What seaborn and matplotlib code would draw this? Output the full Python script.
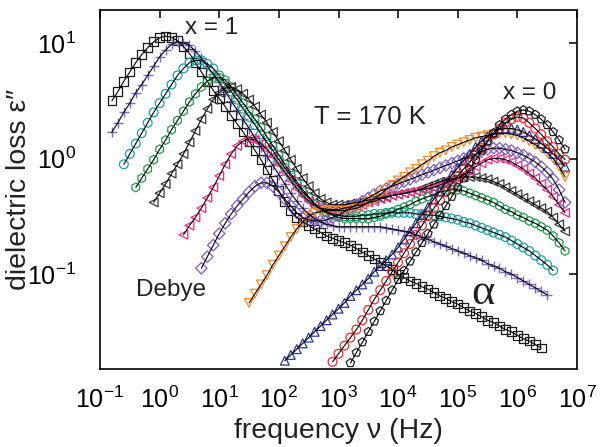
import numpy as np
import pandas as pd
import matplotlib
matplotlib.use("Agg")
import matplotlib.pyplot as plt
import seaborn as sns
from matplotlib.ticker import LogLocator, LogFormatterSciNotation, NullLocator

sns.set_theme(style="white")
plt.rcParams["font.family"] = ["Liberation Sans", "DejaVu Sans"]
plt.rcParams["mathtext.fontset"] = "custom"
plt.rcParams["mathtext.rm"] = "Liberation Sans"
plt.rcParams["mathtext.it"] = "Liberation Sans:italic"
plt.rcParams["mathtext.bf"] = "Liberation Sans:bold"
plt.rcParams["mathtext.default"] = "regular"

# measurement grid: log10(frequency / Hz), ten points per decade
LOG_F = [-0.8, -0.7, -0.6, -0.5, -0.4, -0.3, -0.2, -0.1, 0.0, 0.1,
         0.2, 0.3, 0.4, 0.5, 0.6, 0.7, 0.8, 0.9, 1.0, 1.1,
         1.2, 1.3, 1.4, 1.5, 1.6, 1.7, 1.8, 1.9, 2.0, 2.1,
         2.2, 2.3, 2.4, 2.5, 2.6, 2.7, 2.8, 2.9, 3.0, 3.1,
         3.2, 3.3, 3.4, 3.5, 3.6, 3.7, 3.8, 3.9, 4.0, 4.1,
         4.2, 4.3, 4.4, 4.5, 4.6, 4.7, 4.8, 4.9, 5.0, 5.1,
         5.2, 5.3, 5.4, 5.5, 5.6, 5.7, 5.8, 5.9, 6.0, 6.1,
         6.2, 6.3, 6.4, 6.5, 6.6, 6.7, 6.8]

# log10(eps'') for each concentration, starting at the given log frequency
LOSS_X100 = [0.50, 0.58, 0.67, 0.75, 0.83, 0.90, 0.96, 1.01, 1.045, 1.06, 1.05,
             1.02, 0.97, 0.91, 0.83, 0.75, 0.67, 0.59, 0.52, 0.45, 0.37,
             0.30, 0.23, 0.15, 0.07, -0.01, -0.10, -0.19, -0.28, -0.37, -0.45,
             -0.51, -0.55, -0.58, -0.61, -0.64, -0.67, -0.69, -0.71, -0.73, -0.75,
             -0.78, -0.81, -0.84, -0.87, -0.90, -0.93, -0.96, -1.00, -1.03, -1.06,
             -1.08, -1.11, -1.13, -1.16, -1.19, -1.21, -1.24, -1.26, -1.29, -1.32,
             -1.34, -1.37, -1.40, -1.42, -1.45, -1.48, -1.50, -1.53, -1.56, -1.58,
             -1.61, -1.64]
LOSS_X090 = [0.23, 0.31, 0.40, 0.48, 0.57, 0.64, 0.72, 0.80, 0.88, 0.94, 0.99,
             1.01, 1.00, 0.98, 0.93, 0.87, 0.80, 0.73, 0.66, 0.58, 0.50,
             0.42, 0.34, 0.26, 0.18, 0.10, 0.02, -0.06, -0.14, -0.22, -0.30,
             -0.37, -0.43, -0.48, -0.52, -0.55, -0.57, -0.58, -0.59, -0.59, -0.59,
             -0.59, -0.59, -0.59, -0.59, -0.59, -0.60, -0.61, -0.62, -0.63, -0.64,
             -0.66, -0.68, -0.70, -0.72, -0.74, -0.76, -0.78, -0.80, -0.82, -0.84,
             -0.86, -0.88, -0.91, -0.93, -0.95, -0.98, -1.00, -1.03, -1.06, -1.09,
             -1.12, -1.15, -1.18]
LOSS_X080 = [-0.05, 0.04, 0.13, 0.22, 0.31, 0.40, 0.48, 0.56, 0.64, 0.72,
             0.78, 0.83, 0.85, 0.85, 0.82, 0.78, 0.72, 0.65, 0.58, 0.51,
             0.43, 0.36, 0.29, 0.21, 0.14, 0.07, -0.01, -0.08, -0.15, -0.22,
             -0.29, -0.34, -0.39, -0.43, -0.46, -0.48, -0.49, -0.50, -0.50, -0.50,
             -0.49, -0.49, -0.48, -0.48, -0.47, -0.47, -0.47, -0.47, -0.47, -0.48,
             -0.48, -0.49, -0.49, -0.50, -0.51, -0.52, -0.53, -0.55, -0.56, -0.58,
             -0.60, -0.62, -0.64, -0.66, -0.68, -0.71, -0.74, -0.77, -0.80, -0.84,
             -0.88, -0.92, -0.97]
LOSS_X070 = [-0.25, -0.17, -0.09, -0.01, 0.08, 0.16, 0.25, 0.33, 0.41, 0.49,
             0.56, 0.62, 0.67, 0.70, 0.70, 0.68, 0.62, 0.55, 0.48, 0.41,
             0.34, 0.27, 0.19, 0.11, 0.03, -0.05, -0.13, -0.20, -0.27, -0.33,
             -0.40, -0.44, -0.47, -0.49, -0.51, -0.52, -0.52, -0.52, -0.52, -0.52,
             -0.51, -0.50, -0.48, -0.46, -0.44, -0.42, -0.40, -0.37, -0.35, -0.33,
             -0.31, -0.29, -0.28, -0.27, -0.27, -0.28, -0.30, -0.32, -0.34, -0.36,
             -0.38, -0.41, -0.44, -0.46, -0.49, -0.51, -0.54, -0.56, -0.59, -0.62,
             -0.67, -0.73, -0.80]
LOSS_X060 = [-0.38, -0.30, -0.22, -0.13, -0.05, 0.04, 0.14, 0.24, 0.34, 0.43,
             0.51, 0.57, 0.61, 0.62, 0.60, 0.56, 0.51, 0.45, 0.38, 0.31,
             0.23, 0.15, 0.07, -0.01, -0.09, -0.17, -0.24, -0.30, -0.35, -0.38,
             -0.40, -0.40, -0.40, -0.39, -0.38, -0.37, -0.36, -0.35, -0.34, -0.33,
             -0.32, -0.31, -0.30, -0.29, -0.28, -0.26, -0.24, -0.22, -0.20, -0.19,
             -0.18, -0.17, -0.16, -0.16, -0.16, -0.17, -0.18, -0.20, -0.22, -0.25,
             -0.28, -0.31, -0.34, -0.37, -0.40, -0.43, -0.46, -0.51, -0.57, -0.63]
LOSS_X050 = [-0.66, -0.58, -0.51, -0.43, -0.34, -0.25, -0.15, -0.05, 0.04, 0.11,
             0.15, 0.17, 0.16, 0.13, 0.08, 0.02, -0.05, -0.12, -0.19, -0.26,
             -0.32, -0.37, -0.41, -0.43, -0.44, -0.44, -0.44, -0.43, -0.42, -0.41,
             -0.40, -0.38, -0.37, -0.35, -0.34, -0.32, -0.31, -0.30, -0.29, -0.28,
             -0.27, -0.26, -0.25, -0.23, -0.21, -0.19, -0.17, -0.14, -0.11, -0.07,
             -0.04, -0.01, 0.00, 0.00, -0.01, -0.03, -0.06, -0.09, -0.13, -0.17,
             -0.22, -0.27, -0.33, -0.40, -0.47]
LOSS_X040 = [-0.95, -0.85, -0.75, -0.65, -0.56, -0.48, -0.41, -0.35, -0.29, -0.24,
             -0.21, -0.21, -0.24, -0.29, -0.35, -0.41, -0.47, -0.51, -0.53, -0.54,
             -0.54, -0.53, -0.51, -0.49, -0.46, -0.43, -0.40, -0.37, -0.34, -0.31,
             -0.28, -0.26, -0.24, -0.22, -0.20, -0.18, -0.16, -0.14, -0.12, -0.10,
             -0.08, -0.06, -0.04, -0.02, 0.00, 0.02, 0.04, 0.06, 0.08, 0.09,
             0.09, 0.08, 0.07, 0.05, 0.03, 0.00, -0.03, -0.07, -0.12, -0.18,
             -0.27, -0.38]
LOSS_X030 = [-1.25, -1.17, -1.09, -1.01, -0.92, -0.84, -0.76, -0.68, -0.61, -0.55,
             -0.50, -0.47, -0.46, -0.45, -0.45, -0.45, -0.45, -0.44, -0.43, -0.41,
             -0.38, -0.35, -0.31, -0.27, -0.23, -0.19, -0.16, -0.12, -0.09, -0.05,
             -0.02, 0.02, 0.05, 0.07, 0.10, 0.12, 0.14, 0.16, 0.18, 0.19,
             0.20, 0.21, 0.22, 0.22, 0.21, 0.20, 0.18, 0.15, 0.12, 0.09,
             0.05, 0.00, -0.07, -0.16]
LOSS_X020 = [-1.75, -1.70, -1.65, -1.60, -1.55, -1.50, -1.45, -1.40, -1.35, -1.30,
             -1.25, -1.19, -1.14, -1.09, -1.04, -0.98, -0.93, -0.88, -0.83, -0.77,
             -0.70, -0.63, -0.56, -0.49, -0.42, -0.35, -0.28, -0.21, -0.14, -0.08,
             -0.02, 0.04, 0.10, 0.15, 0.19, 0.22, 0.25, 0.26, 0.26, 0.25,
             0.23, 0.20, 0.17, 0.13, 0.09, 0.04, -0.01, -0.07]
LOSS_X010 = [-1.76, -1.69, -1.62, -1.55, -1.48, -1.40, -1.31, -1.22, -1.14, -1.06,
             -0.98, -0.90, -0.82, -0.74, -0.66, -0.58, -0.50, -0.43, -0.36, -0.29,
             -0.22, -0.15, -0.09, -0.03, 0.03, 0.09, 0.15, 0.21, 0.26, 0.31,
             0.34, 0.36, 0.35, 0.31, 0.26, 0.21, 0.15, 0.10, 0.04, -0.01]
LOSS_X000 = [-1.77, -1.68, -1.59, -1.50, -1.41, -1.32, -1.23, -1.14, -1.05, -0.97,
             -0.89, -0.81, -0.73, -0.65, -0.57, -0.49, -0.41, -0.33, -0.25, -0.17,
             -0.09, -0.01, 0.07, 0.15, 0.22, 0.29, 0.34, 0.38, 0.41, 0.42,
             0.41, 0.38, 0.34, 0.29, 0.23, 0.16, 0.08]

# (first log frequency, log loss values, marker, colour)
SERIES = [
    (-0.8, LOSS_X100, "s", "#1a1a1a"),
    (-0.8, LOSS_X090, "+", "#7c68bd"),
    (-0.6, LOSS_X080, "o", "#1f9ea3"),
    (-0.4, LOSS_X070, "h", "#22994f"),
    (-0.1, LOSS_X060, "<", "#3a3a3a"),
    (0.4, LOSS_X050, "<", "#ec2a86"),
    (0.7, LOSS_X040, "D", "#7b5cbf"),
    (1.5, LOSS_X030, "v", "#f5892a"),
    (2.1, LOSS_X020, "^", "#2b3595"),
    (2.9, LOSS_X010, "o", "#ee2a30"),
    (3.2, LOSS_X000, "p", "#222222"),
]

fig = plt.figure(figsize=(6.06, 4.47), dpi=100)
ax = fig.add_axes([100 / 606, 1 - 369 / 447, 477 / 606, 359 / 447])
ax.set_xscale("log")
ax.set_yscale("log")

for start, values, marker, color in SERIES:
    i0 = int(round((start - LOG_F[0]) * 10))
    logf = np.array(LOG_F[i0:i0 + len(values)])
    df = pd.DataFrame({"freq": 10.0 ** logf, "loss": 10.0 ** np.array(values)})
    if marker == "+":
        sns.scatterplot(data=df, x="freq", y="loss", marker=marker, s=42,
                        color=color, linewidth=1.0, ax=ax, zorder=2)
    else:
        size = 34 if marker == "D" else 40
        sns.scatterplot(data=df, x="freq", y="loss", marker=marker, s=size,
                        facecolor="none", edgecolor=color, linewidth=0.9,
                        ax=ax, zorder=2)
    sns.lineplot(data=df, x="freq", y="loss", color="black", linewidth=0.8,
                 estimator=None, sort=True, ax=ax, zorder=3)

ax.set_xlim(1e-1, 1e7)
ax.set_ylim(10 ** -1.822, 10 ** 1.286)

ax.xaxis.set_major_locator(LogLocator(base=10, numticks=20))
ax.yaxis.set_major_locator(LogLocator(base=10, numticks=20))
ax.xaxis.set_major_formatter(LogFormatterSciNotation())
ax.yaxis.set_major_formatter(LogFormatterSciNotation())
ax.xaxis.set_minor_locator(NullLocator())
ax.yaxis.set_minor_locator(NullLocator())
ax.tick_params(which="major", direction="in", length=6, width=1.1,
               top=True, right=True, labelsize=18, colors="black")
ax.tick_params(axis="x", pad=13)
ax.tick_params(axis="y", pad=17)
for sp in ax.spines.values():
    sp.set_color("black")
    sp.set_linewidth(1.2)

ax.set_xlabel("frequency ν (Hz)", fontsize=20.5, color="#222222", labelpad=3)
ax.set_ylabel("dielectric loss ε\u2033", fontsize=20.5, color="#222222")
ax.yaxis.set_label_coords(-0.143, 0.5)

ax.text(10 ** 0.88, 10 ** 1.13, "x = 1", fontsize=17.5, ha="center",
        va="center", color="#222222")
ax.text(10 ** 3.53, 10 ** 0.36, "T = 170 K", fontsize=18.5, ha="center",
        va="center", color="#222222")
ax.text(10 ** 6.21, 10 ** 0.567, "x = 0", fontsize=17.5, ha="center",
        va="center", color="#222222")
ax.text(10 ** 0.19, 10 ** -1.14, "Debye", fontsize=17.5, ha="center",
        va="center", color="#222222")
ax.text(10 ** 5.43, 10 ** -1.16, "α", fontsize=32, ha="center", va="center",
        family=["Liberation Serif", "DejaVu Serif"], color="#222222")

fig.savefig("out.png", dpi=100)
